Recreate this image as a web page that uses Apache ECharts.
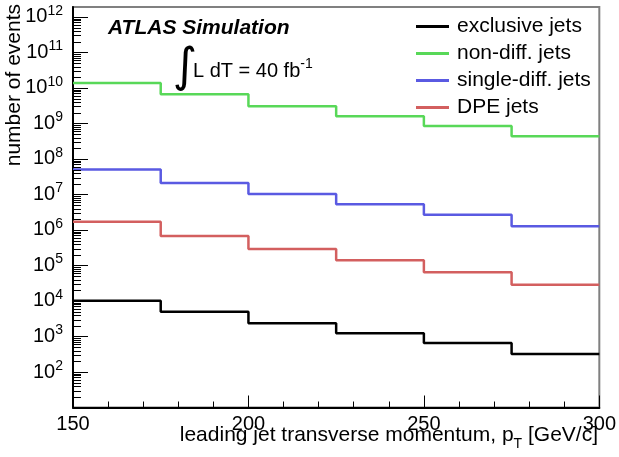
<!DOCTYPE html>
<html>
<head>
<meta charset="utf-8">
<script src="https://cdn.jsdelivr.net/npm/echarts@6/dist/echarts.min.js"></script>
<style>html,body{margin:0;padding:0;background:#fff}#c{width:619px;height:457px}</style>
</head>
<body>
<div id="c"></div>
<script>
// ---- data ----
var binEdges = [150, 175, 200, 225, 250, 275, 300];
var exclusiveJets = [1.02e4, 5.0e3, 2.35e3, 1.23e3, 655, 322];
var nonDiffJets = [1.38e10, 6.65e9, 3.05e9, 1.6e9, 8.5e8, 4.37e8];
var singleDiffJets = [5.0e7, 2.11e7, 1.03e7, 5.3e6, 2.7e6, 1.27e6];
var dpeJets = [1.71e6, 6.78e5, 2.92e5, 1.4e5, 6.45e4, 2.88e4];
var seriesNames = ['exclusive jets', 'non-diff. jets', 'single-diff. jets', 'DPE jets'];
var seriesColors = ['#000000', '#58d858', '#5a5ae2', '#d35f5f'];
var xTicks = [150, 200, 250, 300];
var yDecades = [2, 3, 4, 5, 6, 7, 8, 9, 10, 11, 12];
var yMinorMultipliers = [2, 3, 4, 5, 6, 7, 8, 9];
var yMin = 10, yMax = 1.9e12;

var FONT = 'Liberation Sans, Arial, Helvetica, sans-serif';

function stepData(vals) {
  var d = [];
  for (var i = 0; i < vals.length; i++) d.push([binEdges[i], vals[i]]);
  d.push([binEdges[binEdges.length - 1], vals[vals.length - 1]]);
  return d;
}

var minorTickVals = [];
for (var k = 0; k < yDecades.length + 1; k++) {
  var base = Math.pow(10, (yDecades[0] - 1) + k);
  yMinorMultipliers.forEach(function (m) {
    var v = m * base;
    if (v > yMin && v < yMax) minorTickVals.push([binEdges[0], v]);
  });
}

var allSeries = [exclusiveJets, nonDiffJets, singleDiffJets, dpeJets];
var series = allSeries.map(function (vals, i) {
  return {
    name: seriesNames[i],
    type: 'line',
    step: 'end',
    showSymbol: false,
    symbol: 'none',
    data: stepData(vals),
    lineStyle: { color: seriesColors[i], width: 2.5 },
    itemStyle: { color: seriesColors[i] },
    z: 3
  };
});
series.push({
  type: 'custom',
  name: 'minorTicks',
  silent: true,
  data: minorTickVals,
  encode: { x: 0, y: 1 },
  z: 4,
  renderItem: function (params, api) {
    var p = api.coord([api.value(0), api.value(1)]);
    return {
      type: 'line',
      shape: { x1: p[0], y1: Math.round(p[1]) + 0.5, x2: p[0] + 8, y2: Math.round(p[1]) + 0.5 },
      style: { stroke: '#000', lineWidth: 1 }
    };
  }
});

var chart = echarts.init(document.getElementById('c'), null, { renderer: 'canvas' });
chart.setOption({
  animation: false,
  backgroundColor: '#fff',
  textStyle: { fontFamily: FONT },
  grid: { left: 73, right: 19, top: 7, bottom: 49.5, show: true, borderColor: '#808080', borderWidth: 2, backgroundColor: 'transparent' },
  legend: {
    data: seriesNames,
    orient: 'vertical',
    left: 411,
    top: 11,
    icon: 'rect',
    itemWidth: 33,
    itemHeight: 3,
    itemGap: 6,
    textStyle: { fontFamily: FONT, fontSize: 21, lineHeight: 21, color: '#000', padding: [0, 0, 0, 3] }
  },
  xAxis: {
    type: 'value',
    min: xTicks[0],
    max: xTicks[xTicks.length - 1],
    interval: 50,
    axisLine: { show: true, lineStyle: { color: '#000', width: 2 } },
    axisTick: { show: true, inside: true, length: 12, lineStyle: { color: '#000', width: 1 } },
    minorTick: { show: true, splitNumber: 5, length: 6, lineStyle: { color: '#000', width: 1 } },
    splitLine: { show: false },
    axisLabel: { fontFamily: FONT, fontSize: 20, color: '#000', margin: 7, showMinLabel: true, showMaxLabel: true }
  },
  yAxis: {
    type: 'log',
    min: yMin,
    max: yMax,
    interval: 1,
    axisLine: { show: true, lineStyle: { color: '#000', width: 2 } },
    axisTick: { show: true, inside: true, length: 15, lineStyle: { color: '#000', width: 1 } },
    splitLine: { show: false },
    axisLabel: {
      margin: 10,
      showMinLabel: false,
      showMaxLabel: false,
      formatter: function (v) {
        var e = Math.log10(v);
        var n = Math.round(e);
        if (Math.abs(e - n) > 0.01 || yDecades.indexOf(n) < 0) return '';
        return '{b|10}{s|' + n + '}';
      },
      rich: {
        b: { fontFamily: FONT, fontSize: 20, lineHeight: 26, color: '#000' },
        s: { fontFamily: FONT, fontSize: 14, lineHeight: 14, verticalAlign: 'top', color: '#000' }
      }
    }
  },
  graphic: [
    { type: 'text', left: 108, top: 18, style: { text: 'ATLAS Simulation', font: 'italic bold 21px ' + FONT, fill: '#000' } },
    { type: 'text', x: 185, y: 69, style: { text: '\u222B', font: '47px "DejaVu Sans"', fill: '#000', align: 'center', verticalAlign: 'middle' } },
    { type: 'text', x: 193, y: 71, style: {
        text: '{m|L dT = 40 fb}{s|-1}', align: 'left', verticalAlign: 'middle',
        rich: {
          m: { fontFamily: FONT, fontSize: 20, lineHeight: 28, fill: '#000' },
          s: { fontFamily: FONT, fontSize: 14, lineHeight: 14, verticalAlign: 'top', fill: '#000' }
        } } },
    { type: 'text', x: 14, y: 4, rotation: Math.PI / 2, style: { text: 'number of events', font: '21px ' + FONT, fill: '#000', align: 'right', verticalAlign: 'middle' } },
    { type: 'text', x: 598, y: 435, style: {
        text: '{m|leading jet transverse momentum, p}{t|T}{m| [GeV/c]}', align: 'right', verticalAlign: 'middle',
        rich: {
          m: { fontFamily: FONT, fontSize: 21, lineHeight: 21, fill: '#000' },
          t: { fontFamily: FONT, fontSize: 14, lineHeight: 14, verticalAlign: 'bottom', padding: [0, 0, -6, 0], fill: '#000' }
        } } }
  ],
  series: series
});
</script>
</body>
</html>
